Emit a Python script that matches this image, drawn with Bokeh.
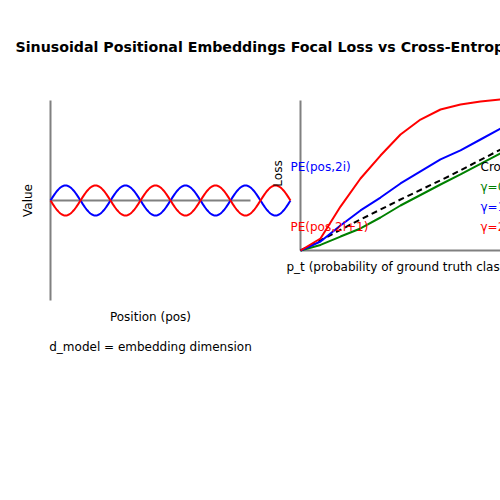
import numpy as np
from bokeh.plotting import figure
from bokeh.models import Range1d, Label
from bokeh.embed import file_html
from bokeh.resources import INLINE

# ---------------- data ----------------
# Left panel: sinusoidal positional embeddings
pos_axis = [0, 50]            # position axis extent
value_axis = [-1, 1]          # value axis extent
sine_amplitude = 0.15
sine_period = 15.0
sine_positions = np.linspace(0, 60, 241)
pe_sin = sine_amplitude * np.sin(2 * np.pi * sine_positions / sine_period)
pe_cos = -pe_sin

# Right panel: focal loss vs cross-entropy
p_t = [0.0, 0.1, 0.2, 0.3, 0.4, 0.5, 0.6, 0.7, 0.8, 0.9, 1.0]
loss_gamma0 = [0.0, 0.037, 0.093, 0.147, 0.22, 0.30, 0.37, 0.44, 0.507, 0.577, 0.647]
loss_gamma1 = [0.0, 0.06, 0.167, 0.267, 0.353, 0.447, 0.527, 0.607, 0.667, 0.74, 0.813]
loss_gamma2 = [0.0, 0.08, 0.293, 0.48, 0.633, 0.773, 0.873, 0.94, 0.973, 0.993, 1.007]
ce_pt = [0.0, 0.1, 0.25, 0.5, 0.75, 1.0]
ce_loss = [0.0, 0.067, 0.173, 0.34, 0.50, 0.673]
pt_axis = [0, 1.2]
loss_axis = [0, 1]

W, H = 500, 500

p = figure(width=W, height=H, output_backend="svg", toolbar_location=None,
           x_range=Range1d(0, W), y_range=Range1d(0, H),
           min_border=0, min_border_left=0, min_border_right=0,
           min_border_top=0, min_border_bottom=0)
p.axis.visible = False
p.grid.visible = False
p.outline_line_color = None
p.background_fill_color = "white"
p.border_fill_color = "white"

# scales for each panel (pixel placement chosen so the panels sit as in the reference)
p.extra_x_ranges = {
    "pos": Range1d(-12.5, 112.5),
    "pt": Range1d(-1.5, 1.0),
}
p.extra_y_ranges = {
    "val": Range1d(-3.0, 2.0),
    "loss": Range1d(-250 / 150, 250 / 150),
}

axis_color = "#808080"
# left panel axes
p.line([0, 0], value_axis, x_range_name="pos", y_range_name="val",
       line_color=axis_color, line_width=2)
p.line(pos_axis, [0, 0], x_range_name="pos", y_range_name="val",
       line_color=axis_color, line_width=2)
p.line(sine_positions, pe_sin, x_range_name="pos", y_range_name="val",
       line_color="blue", line_width=2)
p.line(sine_positions, pe_cos, x_range_name="pos", y_range_name="val",
       line_color="red", line_width=2)

# right panel axes
p.line([0, 0], loss_axis, x_range_name="pt", y_range_name="loss",
       line_color=axis_color, line_width=2)
p.line(pt_axis, [0, 0], x_range_name="pt", y_range_name="loss",
       line_color=axis_color, line_width=2)
p.line(ce_pt, ce_loss, x_range_name="pt", y_range_name="loss",
       line_color="black", line_width=2, line_dash="6 4")
p.line(p_t, loss_gamma0, x_range_name="pt", y_range_name="loss",
       line_color="green", line_width=2)
p.line(p_t, loss_gamma1, x_range_name="pt", y_range_name="loss",
       line_color="blue", line_width=2)
p.line(p_t, loss_gamma2, x_range_name="pt", y_range_name="loss",
       line_color="red", line_width=2)

FONT = "DejaVu Sans"


def lab(text, rx, ry, color="black", size="12px", align="left", bold=False,
        angle=0.0, baseline="middle"):
    p.add_layout(Label(x=rx, y=H - ry, x_units="screen", y_units="screen",
                       text=text, text_color=color, text_font=FONT,
                       text_font_size=size, text_align=align,
                       text_baseline=baseline, angle=angle,
                       text_font_style="bold" if bold else "normal"))


lab("Sinusoidal Positional Embeddings Focal Loss vs Cross-Entropy", 15, 46,
    size="14.2px", bold=True)
lab("Value", 27, 200, align="center", angle=np.pi / 2)
lab("Position (pos)", 150, 316, align="center")
lab("d_model = embedding dimension", 150, 346, align="center")
lab("Loss", 277, 173, align="center", angle=np.pi / 2)
lab("PE(pos,2i)", 290, 166, color="blue")
lab("PE(pos,2i+1)", 290, 226, color="red")
lab("p_t (probability of ground truth class)", 286, 266)
lab("Cross-Entropy", 480, 166)
lab("γ=0.5", 480, 186, color="green")
lab("γ=1", 480, 206, color="blue")
lab("γ=2", 480, 226, color="red")

open("out.html", "w").write(file_html(p, INLINE))
